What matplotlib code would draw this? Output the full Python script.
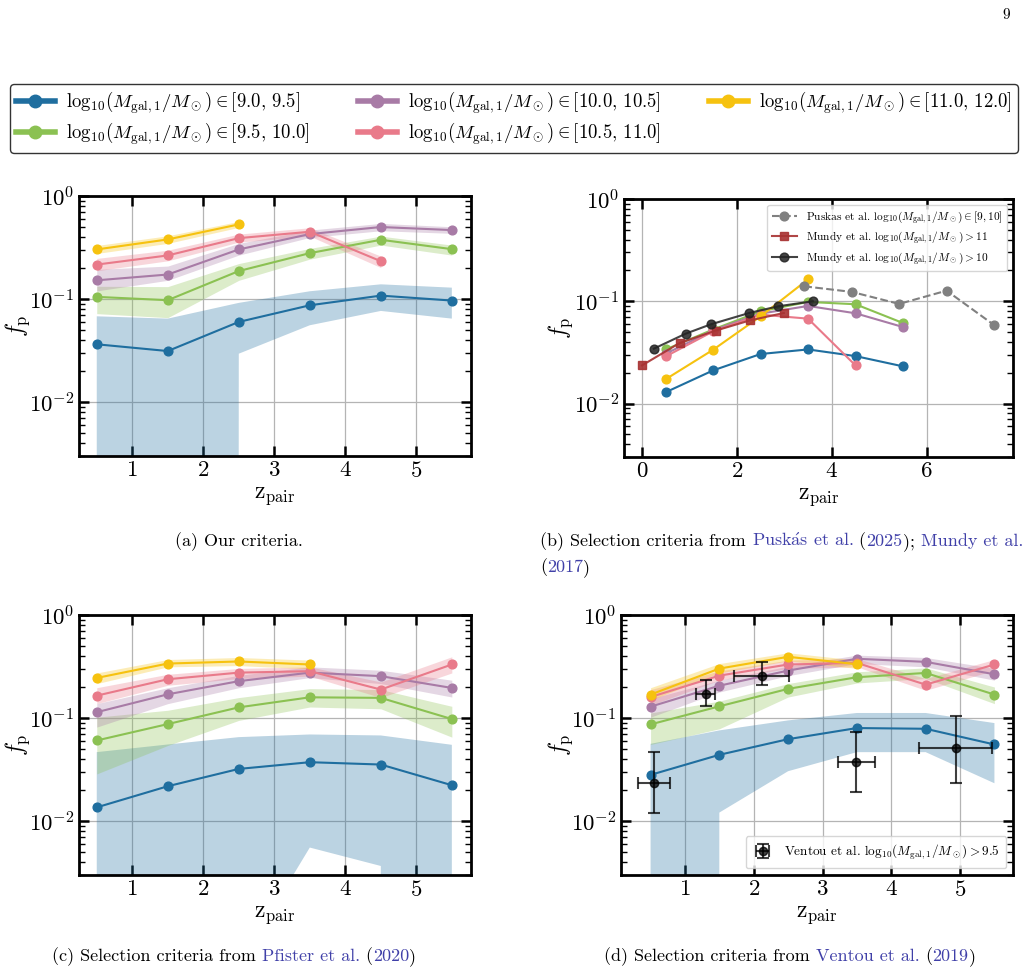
import numpy as np
import matplotlib.pyplot as plt
from matplotlib.lines import Line2D
from matplotlib.ticker import LogLocator, NullFormatter

plt.rcParams['font.family'] = ['cmr10', 'DejaVu Serif']
plt.rcParams['mathtext.fontset'] = 'cm'
plt.rcParams['axes.unicode_minus'] = False
plt.rcParams['axes.formatter.use_mathtext'] = True

# redshift bin centres
z = [0.5, 1.5, 2.5, 3.5, 4.5, 5.5]

colors = ['#1f6e9f', '#8bc152', '#a87ba6', '#e97a8a', '#f6c20f']
labels = [r'$\mathrm{log}_{10}(M_{\rm gal,1}/M_\odot)\in[9.0,\,9.5]$',
          r'$\mathrm{log}_{10}(M_{\rm gal,1}/M_\odot)\in[9.5,\,10.0]$',
          r'$\mathrm{log}_{10}(M_{\rm gal,1}/M_\odot)\in[10.0,\,10.5]$',
          r'$\mathrm{log}_{10}(M_{\rm gal,1}/M_\odot)\in[10.5,\,11.0]$',
          r'$\mathrm{log}_{10}(M_{\rm gal,1}/M_\odot)\in[11.0,\,12.0]$']

# (a) our criteria: value, lower, upper per mass bin
a_blue = [0.0364, 0.0313, 0.060, 0.087, 0.108, 0.0967]
a_blue_lo = [0, 0, 0.0295, 0.0557, 0.0767, 0.0646]
a_blue_hi = [0.068, 0.0646, 0.0918, 0.119, 0.139, 0.129]
a_green = [0.105, 0.0975, 0.187, 0.279, 0.376, 0.305]
a_green_lo = [0.0722, 0.066, 0.152, 0.244, 0.334, 0.267]
a_green_hi = [0.133, 0.132, 0.221, 0.31, 0.408, 0.334]
a_purple = [0.152, 0.173, 0.303, 0.427, 0.5, 0.467]
a_purple_lo = [0.12, 0.152, 0.267, 0.396, 0.46, 0.434]
a_purple_hi = [0.194, 0.209, 0.347, 0.467, 0.542, 0.503]
a_pink = [0.216, 0.265, 0.39, 0.45, 0.233]
a_pink_lo = [0.188, 0.235, 0.357, 0.408, 0.202]
a_pink_hi = [0.248, 0.298, 0.427, 0.492, 0.261]
a_yellow = [0.303, 0.379, 0.53]
a_yellow_lo = [0.277, 0.347, 0.496]
a_yellow_hi = [0.331, 0.411, 0.567]

# (b) Puskas / Mundy criteria
b_blue = [0.0129, 0.0211, 0.0305, 0.0338, 0.0291, 0.0231]
b_green = [0.0338, 0.053, 0.0798, 0.0985, 0.0935, 0.0613]
b_purple = [0.0307, 0.052, 0.0757, 0.090, 0.0763, 0.056]
b_pink = [0.0289, 0.0508, 0.074, 0.0676, 0.0236]
b_yellow = [0.0173, 0.0336, 0.0713, 0.164]
puskas_z = [3.42, 4.42, 5.42, 6.42, 7.42]
puskas_fp = [0.14, 0.1235, 0.0942, 0.127, 0.0586]
mundy11_z = [0.0, 0.79, 1.55, 2.28, 2.99]
mundy11_fp = [0.0236, 0.039, 0.0516, 0.0651, 0.0768]
mundy10_z = [0.25, 0.92, 1.45, 2.26, 2.87, 3.6]
mundy10_fp = [0.0344, 0.0482, 0.0595, 0.0768, 0.0893, 0.100]

# (c) Pfister criteria
c_blue = [0.0136, 0.0218, 0.0321, 0.0373, 0.0354, 0.0223]
c_blue_lo = [0, 0, 0.0004, 0.00554, 0.00367, 0]
c_blue_hi = [0.0467, 0.0554, 0.0653, 0.0693, 0.0678, 0.055]
c_green = [0.0606, 0.0874, 0.127, 0.159, 0.157, 0.0978]
c_green_lo = [0.0287, 0.0542, 0.0949, 0.128, 0.123, 0.0653]
c_green_hi = [0.102, 0.119, 0.158, 0.193, 0.189, 0.13]
c_purple = [0.114, 0.17, 0.228, 0.276, 0.255, 0.196]
c_purple_lo = [0.0817, 0.138, 0.197, 0.247, 0.216, 0.16]
c_purple_hi = [0.138, 0.197, 0.26, 0.314, 0.291, 0.233]
c_pink = [0.165, 0.238, 0.276, 0.285, 0.189, 0.331]
c_pink_lo = [0.138, 0.208, 0.242, 0.255, 0.158, 0.274]
c_pink_hi = [0.197, 0.266, 0.303, 0.314, 0.224, 0.393]
c_yellow = [0.245, 0.338, 0.354, 0.331]
c_yellow_lo = [0.216, 0.314, 0.323, 0.3]
c_yellow_hi = [0.274, 0.37, 0.387, 0.365]

# (d) Ventou criteria
d_blue = [0.0281, 0.044, 0.0624, 0.08, 0.0787, 0.0554]
d_blue_lo = [0, 0.0121, 0.0305, 0.0467, 0.0467, 0.0233]
d_blue_hi = [0.0562, 0.0759, 0.0949, 0.112, 0.112, 0.0894]
d_green = [0.0868, 0.13, 0.192, 0.249, 0.274, 0.169]
d_green_lo = [0.0554, 0.0787, 0.16, 0.219, 0.242, 0.138]
d_green_hi = [0.112, 0.146, 0.216, 0.281, 0.307, 0.2]
d_purple = [0.129, 0.206, 0.289, 0.376, 0.351, 0.266]
d_purple_lo = [0.102, 0.179, 0.258, 0.338, 0.314, 0.233]
d_purple_hi = [0.154, 0.233, 0.319, 0.408, 0.387, 0.303]
d_pink = [0.16, 0.258, 0.331, 0.343, 0.211, 0.331]
d_pink_lo = [0.133, 0.233, 0.303, 0.314, 0.186, 0.291]
d_pink_hi = [0.189, 0.287, 0.365, 0.378, 0.242, 0.37]
d_yellow = [0.169, 0.302, 0.393, 0.333]
d_yellow_lo = [0.149, 0.274, 0.359, 0.303]
d_yellow_hi = [0.197, 0.338, 0.43, 0.365]

ventou_z = [0.55, 1.30, 2.12, 3.49, 4.94]
ventou_zerr = [0.23, 0.14, 0.40, 0.27, 0.53]
ventou_fp = [0.0236, 0.170, 0.255, 0.0376, 0.0514]
ventou_lo = [0.0121, 0.130, 0.211, 0.0193, 0.0236]
ventou_hi = [0.0473, 0.236, 0.351, 0.0731, 0.1045]

W, H = 1026, 973
fig = plt.figure(figsize=(W / 100, H / 100), dpi=100)


def make_ax(left, top, right, bottom, ylab_x):
    ax = fig.add_axes([left / W, 1 - bottom / H, (right - left) / W, (bottom - top) / H])
    ax.set_yscale('log')
    ax.set_ylim(0.003, 1)
    ax.yaxis.set_major_locator(LogLocator(base=10, numticks=10))
    ax.yaxis.set_minor_locator(LogLocator(base=10, subs=np.arange(2, 10), numticks=10))
    ax.yaxis.set_minor_formatter(NullFormatter())
    ax.grid(True, which='major', color='#b4b4b4', lw=0.9)
    ax.tick_params(which='both', direction='in', top=True, right=True, labelsize=16.5)
    ax.tick_params(which='major', length=7, width=1.8)
    ax.tick_params(which='minor', length=4, width=1.0)
    for s in ax.spines.values():
        s.set_linewidth(2.0)
    ax.set_xlabel(r'$\rm z_{pair}$', fontsize=17, labelpad=3)
    ax.set_ylabel(r'$f_{\rm p}$', fontsize=17)
    # put the y label where the reference has it
    ax.yaxis.set_label_coords((ylab_x - left) / (right - left), 0.5)
    ax.set_axisbelow(True)
    return ax


def draw_bins(ax, vals, los, his):
    for c, v, lo, hi in zip(colors, vals, los, his):
        n = len(v)
        ax.fill_between(z[:n], lo, hi, color=c, alpha=0.3, lw=0)
        ax.plot(z[:n], v, '-o', color=c, lw=1.5, ms=6.3)


# (a)
ax_a = make_ax(79, 196, 471, 456, 32)
draw_bins(ax_a,
          [a_blue, a_green, a_purple, a_pink, a_yellow],
          [a_blue_lo, a_green_lo, a_purple_lo, a_pink_lo, a_yellow_lo],
          [a_blue_hi, a_green_hi, a_purple_hi, a_pink_hi, a_yellow_hi])
ax_a.set_xlim(0.25, 5.77)
ax_a.set_xticks([1, 2, 3, 4, 5])

# (b)
ax_b = make_ax(624, 199, 1013, 457, 575)
for c, v in zip(colors, [b_blue, b_green, b_purple, b_pink, b_yellow]):
    ax_b.plot(z[:len(v)], v, '-o', color=c, lw=1.5, ms=6.3)
ax_b.plot(puskas_z, puskas_fp, '--o', color='gray', lw=1.5, ms=6.3,
          label=r'Puskas et al. $\mathrm{log}_{10}(M_{\rm gal,1}/M_\odot)\in[9,10]$')
ax_b.plot(mundy11_z, mundy11_fp, '-s', color='#a83232', alpha=0.9, lw=1.5, ms=6.3,
          label=r'Mundy et al. $\mathrm{log}_{10}(M_{\rm gal,1}/M_\odot)>11$')
ax_b.plot(mundy10_z, mundy10_fp, '-o', color='#222222', alpha=0.85, lw=1.5, ms=6.3,
          label=r'Mundy et al. $\mathrm{log}_{10}(M_{\rm gal,1}/M_\odot)>10$')
ax_b.set_xlim(-0.38, 7.82)
ax_b.set_xticks([0, 2, 4, 6])
ax_b.legend(loc='upper right', fontsize=8.2, framealpha=0.8, borderpad=0.4,
            handlelength=2.2, labelspacing=0.3)

# (c)
ax_c = make_ax(79, 615, 471, 875, 32)
draw_bins(ax_c,
          [c_blue, c_green, c_purple, c_pink, c_yellow],
          [c_blue_lo, c_green_lo, c_purple_lo, c_pink_lo, c_yellow_lo],
          [c_blue_hi, c_green_hi, c_purple_hi, c_pink_hi, c_yellow_hi])
ax_c.set_xlim(0.25, 5.77)
ax_c.set_xticks([1, 2, 3, 4, 5])

# (d)
ax_d = make_ax(621, 615, 1013, 875, 575)
draw_bins(ax_d,
          [d_blue, d_green, d_purple, d_pink, d_yellow],
          [d_blue_lo, d_green_lo, d_purple_lo, d_pink_lo, d_yellow_lo],
          [d_blue_hi, d_green_hi, d_purple_hi, d_pink_hi, d_yellow_hi])
yerr = [np.array(ventou_fp) - np.array(ventou_lo), np.array(ventou_hi) - np.array(ventou_fp)]
ax_d.errorbar(ventou_z, ventou_fp, xerr=ventou_zerr, yerr=yerr, fmt='o', color='k',
              alpha=0.75, ms=6, capsize=4, elinewidth=1.5, capthick=1.5,
              label=r'Ventou et al. $\mathrm{log}_{10}(M_{\rm gal,1}/M_\odot)>9.5$')
ax_d.set_xlim(0.07, 5.77)
ax_d.set_xticks([1, 2, 3, 4, 5])
ax_d.legend(loc='lower right', fontsize=9.5, framealpha=0.8, borderpad=0.5,
            handlelength=1.6)

# shared legend at top
handles = [Line2D([], [], color=c, lw=4, marker='o', ms=9) for c in colors]
fig.legend(handles, labels, ncol=3, loc='upper left',
           bbox_to_anchor=(10 / W, 1 - 152 / H, 1008 / W, 68 / H), mode='expand',
           borderaxespad=0, fontsize=13.5, frameon=True, edgecolor='black', fancybox=True,
           handlelength=2.1, handletextpad=0.6, borderpad=0.3, labelspacing=0.25,
           columnspacing=1.5)

# page number
fig.text(1006 / W, 1 - 15 / H, '9', fontsize=11, ha='center', va='center')

# captions with linked citations
renderer = fig.canvas.get_renderer()
link = '#4040a8'


def rich(x, y, parts, size=13):
    for s, c in parts:
        t = fig.text(x / W, 1 - y / H, s, color=c, fontsize=size, va='baseline')
        bb = t.get_window_extent(renderer)
        x += bb.width


rich(175, 546, [('(a) Our criteria.', 'k')])
rich(540, 546, [('(b) Selection criteria from ', 'k'), (r'Pusk$\acute{\rm a}$s et al.', link),
                (' (', 'k'), ('2025', link), ('); ', 'k'), ('Mundy et al.', link)])
rich(540, 572, [('(', 'k'), ('2017', link), (')', 'k')])
rich(52, 961, [('(c) Selection criteria from ', 'k'), ('Pfister et al.', link),
               (' (', 'k'), ('2020', link), (')', 'k')])
rich(604, 961, [('(d) Selection criteria from ', 'k'), ('Ventou et al.', link),
                (' (', 'k'), ('2019', link), (')', 'k')])

fig.savefig('out.png', dpi=100)
